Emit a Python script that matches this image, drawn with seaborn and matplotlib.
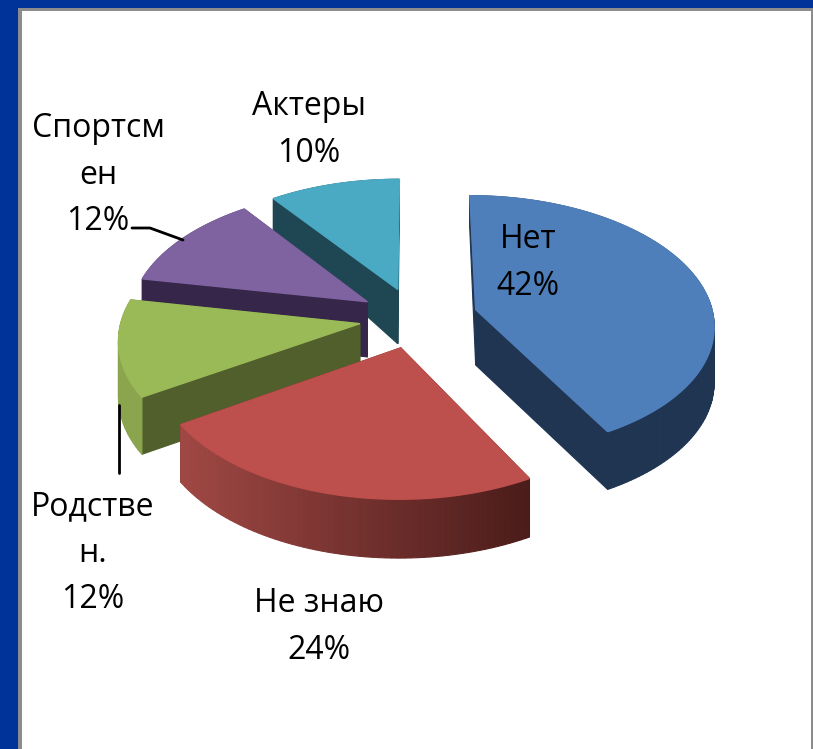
import numpy as np
import matplotlib
matplotlib.use("Agg")
import matplotlib.pyplot as plt
import matplotlib.transforms as mtransforms
from matplotlib.patches import Rectangle, Polygon
from matplotlib.path import Path
from matplotlib.colors import to_rgb
import seaborn as sns

# ---- data -------------------------------------------------------------
label_lines = ["Нет", "Не знаю", "Родстве\nн.", "Спортсм\nен", "Актеры"]
shares = [42, 24, 12, 12, 10]

# ---- style ------------------------------------------------------------
top_colors = ["#4f7fbb", "#bd4f4c", "#9aba58", "#7f63a1", "#4aa9c3"]
radial_colors = ["#1f3552", "#4f1e1c", "#505f2b", "#35264a", "#1e4753"]
arc_left = ["#1f3552", "#a04844", "#8aa54d", "#35264a", "#1e4753"]
arc_right = ["#1f3552", "#4a1c1a", "#8aa54d", "#35264a", "#1e4753"]
explode = [0.265, 0.235, 0.235, 0.24, 0.24]
paint_order = [4, 3, 2, 0, 1]
label_xy = [(528, 263), (319, 627), (93, 553), (98, 175), (309, 130)]
CX, CY, A, B, Q = 415.0, 318.0, 238.0, 128.0, 0.1085

sns.set_theme(style="white")
plt.rcParams["font.family"] = ["Open Sans", "DejaVu Sans"]


def flatten(path):
    """Polyline version of a wedge outline (curves become fine segments)."""
    scale = 2000.0
    big = mtransforms.Affine2D().scale(scale).transform_path(path)
    return big.to_polygons()[0] / scale


class Tilt(mtransforms.Transform):
    """Perspective view of the pie's plane, in figure pixels."""
    input_dims = output_dims = 2
    is_separable = False
    has_inverse = False

    def transform_non_affine(self, values):
        v = np.asarray(values, dtype=float)
        w = 1 + Q * v[:, 1]
        return np.column_stack([CX + A * v[:, 0] / w, CY - B * v[:, 1] / w])

    def transform_path_non_affine(self, path):
        return Path(self.transform_non_affine(flatten(path)))


fig = plt.figure(figsize=(8.13, 7.49), dpi=100, facecolor="#003399")
ax = fig.add_axes([0, 0, 1, 1])
wedges, _ = ax.pie(shares, explode=explode, startangle=90, counterclock=False,
                   colors=sns.color_palette(top_colors), radius=1.0)
ax.set_aspect("auto")
ax.set_xlim(0, 813)
ax.set_ylim(749, 0)
ax.set_axis_off()

# panel
ax.add_patch(Rectangle((18, 8), 800, 745, fc="#8c8c8c", ec="none", zorder=0))
ax.add_patch(Rectangle((22, 11), 789, 745, fc="white", ec="none", zorder=0.5))

tilt = Tilt()


def depth(y):
    return np.interp(y, [-1.3, 0.2, 1.25], [59, 55, 28])


for rank, i in enumerate(paint_order):
    w = wedges[i]
    base = 10 + rank * 10
    poly = flatten(w.get_path())
    top = tilt.transform(poly)
    bot = top + np.column_stack([np.zeros(len(top)), depth(poly[:, 1])])
    apex = np.array(w.center)
    dist = np.hypot(*(poly - apex).T)
    x0, x1 = top[:, 0].min(), top[:, 0].max()
    quads = []
    for k in range(len(poly) - 1):
        q = np.array([top[k], top[k + 1], bot[k + 1], bot[k]])
        if min(dist[k], dist[k + 1]) > 0.98:
            t = (q[:, 0].mean() - x0) / max(x1 - x0, 1)
            c = (1 - t) * np.array(to_rgb(arc_left[i])) + t * np.array(to_rgb(arc_right[i]))
        else:
            c = np.array(to_rgb(radial_colors[i]))
        quads.append((q[:, 1].mean(), q, c))
    quads.sort(key=lambda r: r[0])
    for _, q, c in quads:
        ax.add_patch(Polygon(q, closed=True, fc=c, ec=c, lw=0.8, zorder=base))
    w.set_transform(tilt + ax.transData)
    w.set_zorder(base + 1)
    w.set_edgecolor(top_colors[i])
    w.set_linewidth(1.0)

# labels
for name, share, (x, y) in zip(label_lines, shares, label_xy):
    ax.text(x, y, f"{name}\n{share}%", ha="center", va="center", fontsize=23,
            color="black", linespacing=1.55, zorder=100)

# leader lines
ax.plot([132, 150, 183], [228, 228, 240], color="black", lw=2, zorder=90)
ax.plot([119, 119], [405, 473], color="black", lw=2, zorder=90)

fig.savefig("out.png", dpi=100, facecolor=fig.get_facecolor())
